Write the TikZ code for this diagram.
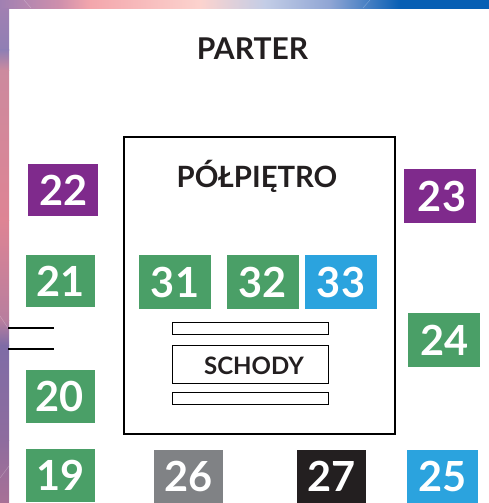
\documentclass[tikz,border=0pt]{standalone}
\usepackage{fontspec}
\setmainfont{Lato}
\definecolor{cgreen}{HTML}{4A9F67}
\definecolor{cpurple}{HTML}{7F2A8C}
\definecolor{cblue}{HTML}{2BA3DE}
\definecolor{cgray}{HTML}{808285}
\definecolor{cblack}{HTML}{231F20}
\definecolor{ctext}{HTML}{231F20}
\definecolor{t0}{HTML}{A080B2}
\definecolor{t1}{HTML}{CF90AC}
\definecolor{t2}{HTML}{F3A6AC}
\definecolor{t3}{HTML}{FCD3CE}
\definecolor{t4}{HTML}{C3CDE6}
\definecolor{t5}{HTML}{8FA5D4}
\definecolor{t6}{HTML}{075FB4}
\definecolor{l0}{HTML}{A080B2}
\definecolor{l1}{HTML}{8F7FB4}
\definecolor{l2}{HTML}{CC8A9E}
\definecolor{l3}{HTML}{DE8494}
\definecolor{l4}{HTML}{B87E9E}
\definecolor{l5}{HTML}{7F6CA6}
\definecolor{l6}{HTML}{8E6C9E}
\definecolor{l7}{HTML}{A87096}
\tikzset{
 room/.style={draw=none,fill=#1,text=white,font=\bfseries\fontsize{41.5}{42}\selectfont,inner sep=0pt},
 outline/.style={draw=black,line width=1.3pt,fill=white},
 lbl/.style={text=ctext,inner sep=0pt},
 railbox/.style={draw=black,line width=1pt,fill=white,minimum width=156pt,inner sep=0pt},
 wall/.style={draw=black,line width=1.2pt},
 streak/.style={draw=white,opacity=.25,line width=.5pt},
}
\newcommand{\roomnode}[7]{\node[room=#2,minimum width=#5pt,minimum height=#6pt] (#1) at (#3+#5/2,#4+#6/2) {#7};}
\begin{document}
\begin{tikzpicture}[x=1pt,y=-1pt]
\useasboundingbox (0,0) rectangle (489,503);
\fill[white] (0,0) rectangle (489,503);
% top band
\foreach \a/\b/\ca/\cb in {0/60/t0/t1,60/90/t1/t2,90/200/t2/t3,200/265/t3/t4,265/330/t4/t5,330/400/t5/t6,400/489/t6/t6}
 {\shade[left color=\ca,right color=\cb] (\a,0) rectangle (\b+.3,9);}
% left band
\foreach \a/\b/\ca/\cb in {9/50/l0/l1,50/70/l1/l2,70/220/l2/l3,220/320/l3/l4,320/345/l4/l5,345/440/l5/l6,440/503/l6/l7}
 {\shade[top color=\ca,bottom color=\cb] (0,\a) rectangle (9,\b+.3);}
\draw[streak] (24,0) -- (31,8);
\draw[streak] (363,8) -- (370,0);
\draw[streak] (0,316) -- (8,328);
\draw[streak] (0,478) -- (9,466);
% floor
\node[outline,minimum width=271pt,minimum height=297pt,inner sep=0pt] (mezz) at (259.5,285.5) {};
\node[lbl,font=\bfseries\fontsize{30}{30}\selectfont] (parter) at (252.5,49) {PARTER};
\node[lbl,font=\bfseries\fontsize{29.3}{30}\selectfont] (polpietro) at (257,176) {PÓŁPIĘTRO};
% stairs
\node[railbox,minimum height=12pt] (railtop) at (250,328) {};
\node[railbox,minimum height=37.5pt] (stairs) at (250,364.5) {};
\node[railbox,minimum height=12pt] (railbot) at (250,398) {};
\node[lbl,font=\bfseries\fontsize{24}{24}\selectfont] (schody) at (254,365.5) {SCHODY};
% rooms
\roomnode{r22}{cpurple}{28}{164}{69.5}{52}{\hspace*{2pt}22}
\roomnode{r21}{cgreen}{26}{255}{69}{52}{21}
\roomnode{r20}{cgreen}{25.5}{370}{69.5}{52.5}{\hspace*{-2pt}20}
\roomnode{r19}{cgreen}{26}{449}{69}{53}{19}
\roomnode{r23}{cpurple}{404}{169}{72}{54}{\hspace*{4pt}23}
\roomnode{r24}{cgreen}{408}{313}{71.5}{54}{\hspace*{2pt}24}
\roomnode{r25}{cblue}{406.5}{450}{71.5}{53}{25}
\roomnode{r26}{cgray}{154}{450}{69}{53}{26}
\roomnode{r27}{cblack}{297}{450}{69}{53}{27}
\roomnode{r31}{cgreen}{139}{255}{72}{54}{31}
\roomnode{r32}{cgreen}{226.5}{255}{72}{54}{32}
\roomnode{r33}{cblue}{305}{255}{72}{54}{33}
% wall stubs
\coordinate (w1a) at (8,328); \coordinate (w1b) at (54,328);
\coordinate (w2a) at (8,349); \coordinate (w2b) at (54,349);
\draw[wall] (w1a) -- (w1b);
\draw[wall] (w2a) -- (w2b);
\end{tikzpicture}
\end{document}
